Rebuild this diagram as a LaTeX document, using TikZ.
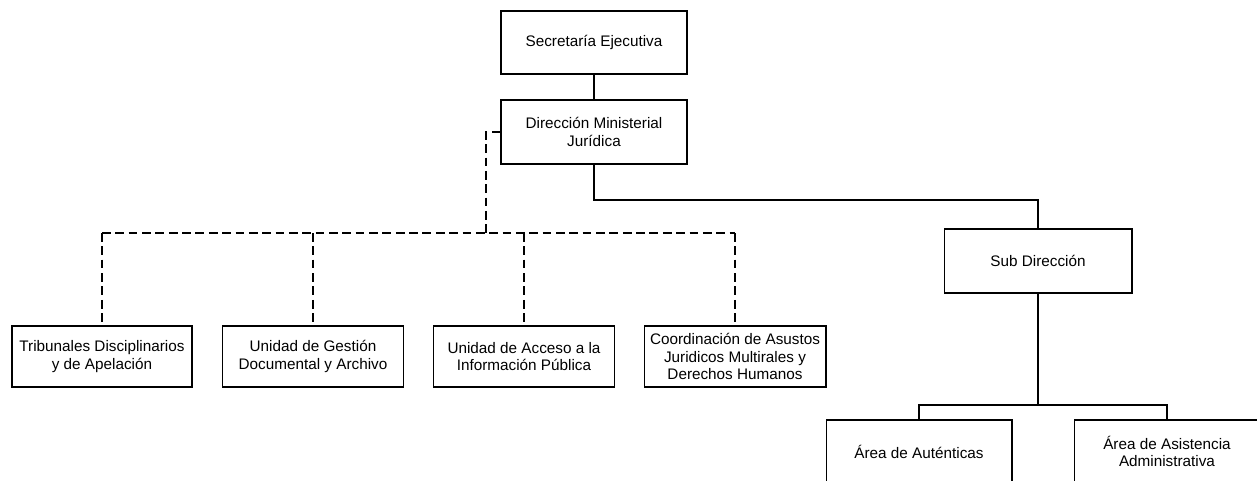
\documentclass[tikz,border=0pt]{standalone}
\usepackage{fontspec}
\setmainfont{Liberation Sans}
\usetikzlibrary{positioning}

\tikzset{
  caja/.style={draw, line width=0.6pt, align=center, inner sep=1pt,
    minimum height=1.26cm, font=\fontsize{8.7}{10}\selectfont},
  enlace/.style={line width=0.6pt},
  asesor/.style={line width=0.6pt, dash pattern=on 5pt off 2.6pt}
}

\begin{document}
\begin{tikzpicture}[x=0.02cm, y=-0.02cm]
  %tikz  Organigrama, Direccion Ministerial Juridica
    \useasboundingbox (0,0) rectangle (1257,480);
    \clip (0,0) rectangle (1257,480);
    \node[caja, minimum width=3.72cm] (sec) at (594,42.5) {Secretaría Ejecutiva};
    \node[caja, minimum width=3.72cm, minimum height=1.28cm] (dir) at (594,132) {Dirección Ministerial\\Jurídica};
    \node[caja, minimum width=3.76cm, minimum height=1.28cm] (sub) at (1038,261) {Sub Dirección};
    \node[caja, minimum width=3.6cm, minimum height=1.22cm] (tri) at (102,356.5) {Tribunales Disciplinarios\\y de Apelación};
    \node[caja, minimum width=3.62cm, minimum height=1.22cm] (ges) at (313,356.5) {Unidad de Gestión\\Documental y Archivo};
    \node[caja, minimum width=3.62cm, minimum height=1.22cm] (acc) at (524,356.5) {Unidad de Acceso a la\\Información Pública};
    \node[caja, minimum width=3.64cm, minimum height=1.22cm] (coo) at (735,356.5) {Coordinación de Asustos\\Juridicos Multirales y\\Derechos Humanos};
    \node[caja, minimum width=3.72cm] (aut) at (919,451.5) {Área de Auténticas};
    \node[caja, minimum width=3.72cm] (asi) at (1167,451.5) {Área de Asistencia\\Administrativa};
    \coordinate (bus) at (486,233);
    \coordinate (jr) at (1038,200);
    \coordinate (jb) at (1038,405);
    % linea de mando
    \draw[enlace] (sec) -- (dir);
    \draw[enlace] (dir.south) |- (jr) -- (sub.north);
    \draw[enlace] (sub.south) -- (jb);
    \draw[enlace] (aut.north) |- (jb) -| (asi.north);
    % unidades de apoyo
    \draw[asesor] (dir.west) -| (bus);
    \draw[asesor] (tri.north |- bus) -- (coo.north |- bus);
    \foreach \u in {tri, ges, acc, coo}{
      \draw[asesor] (\u.north |- bus) -- (\u.north);
    }
  \end{tikzpicture}
\end{document}
